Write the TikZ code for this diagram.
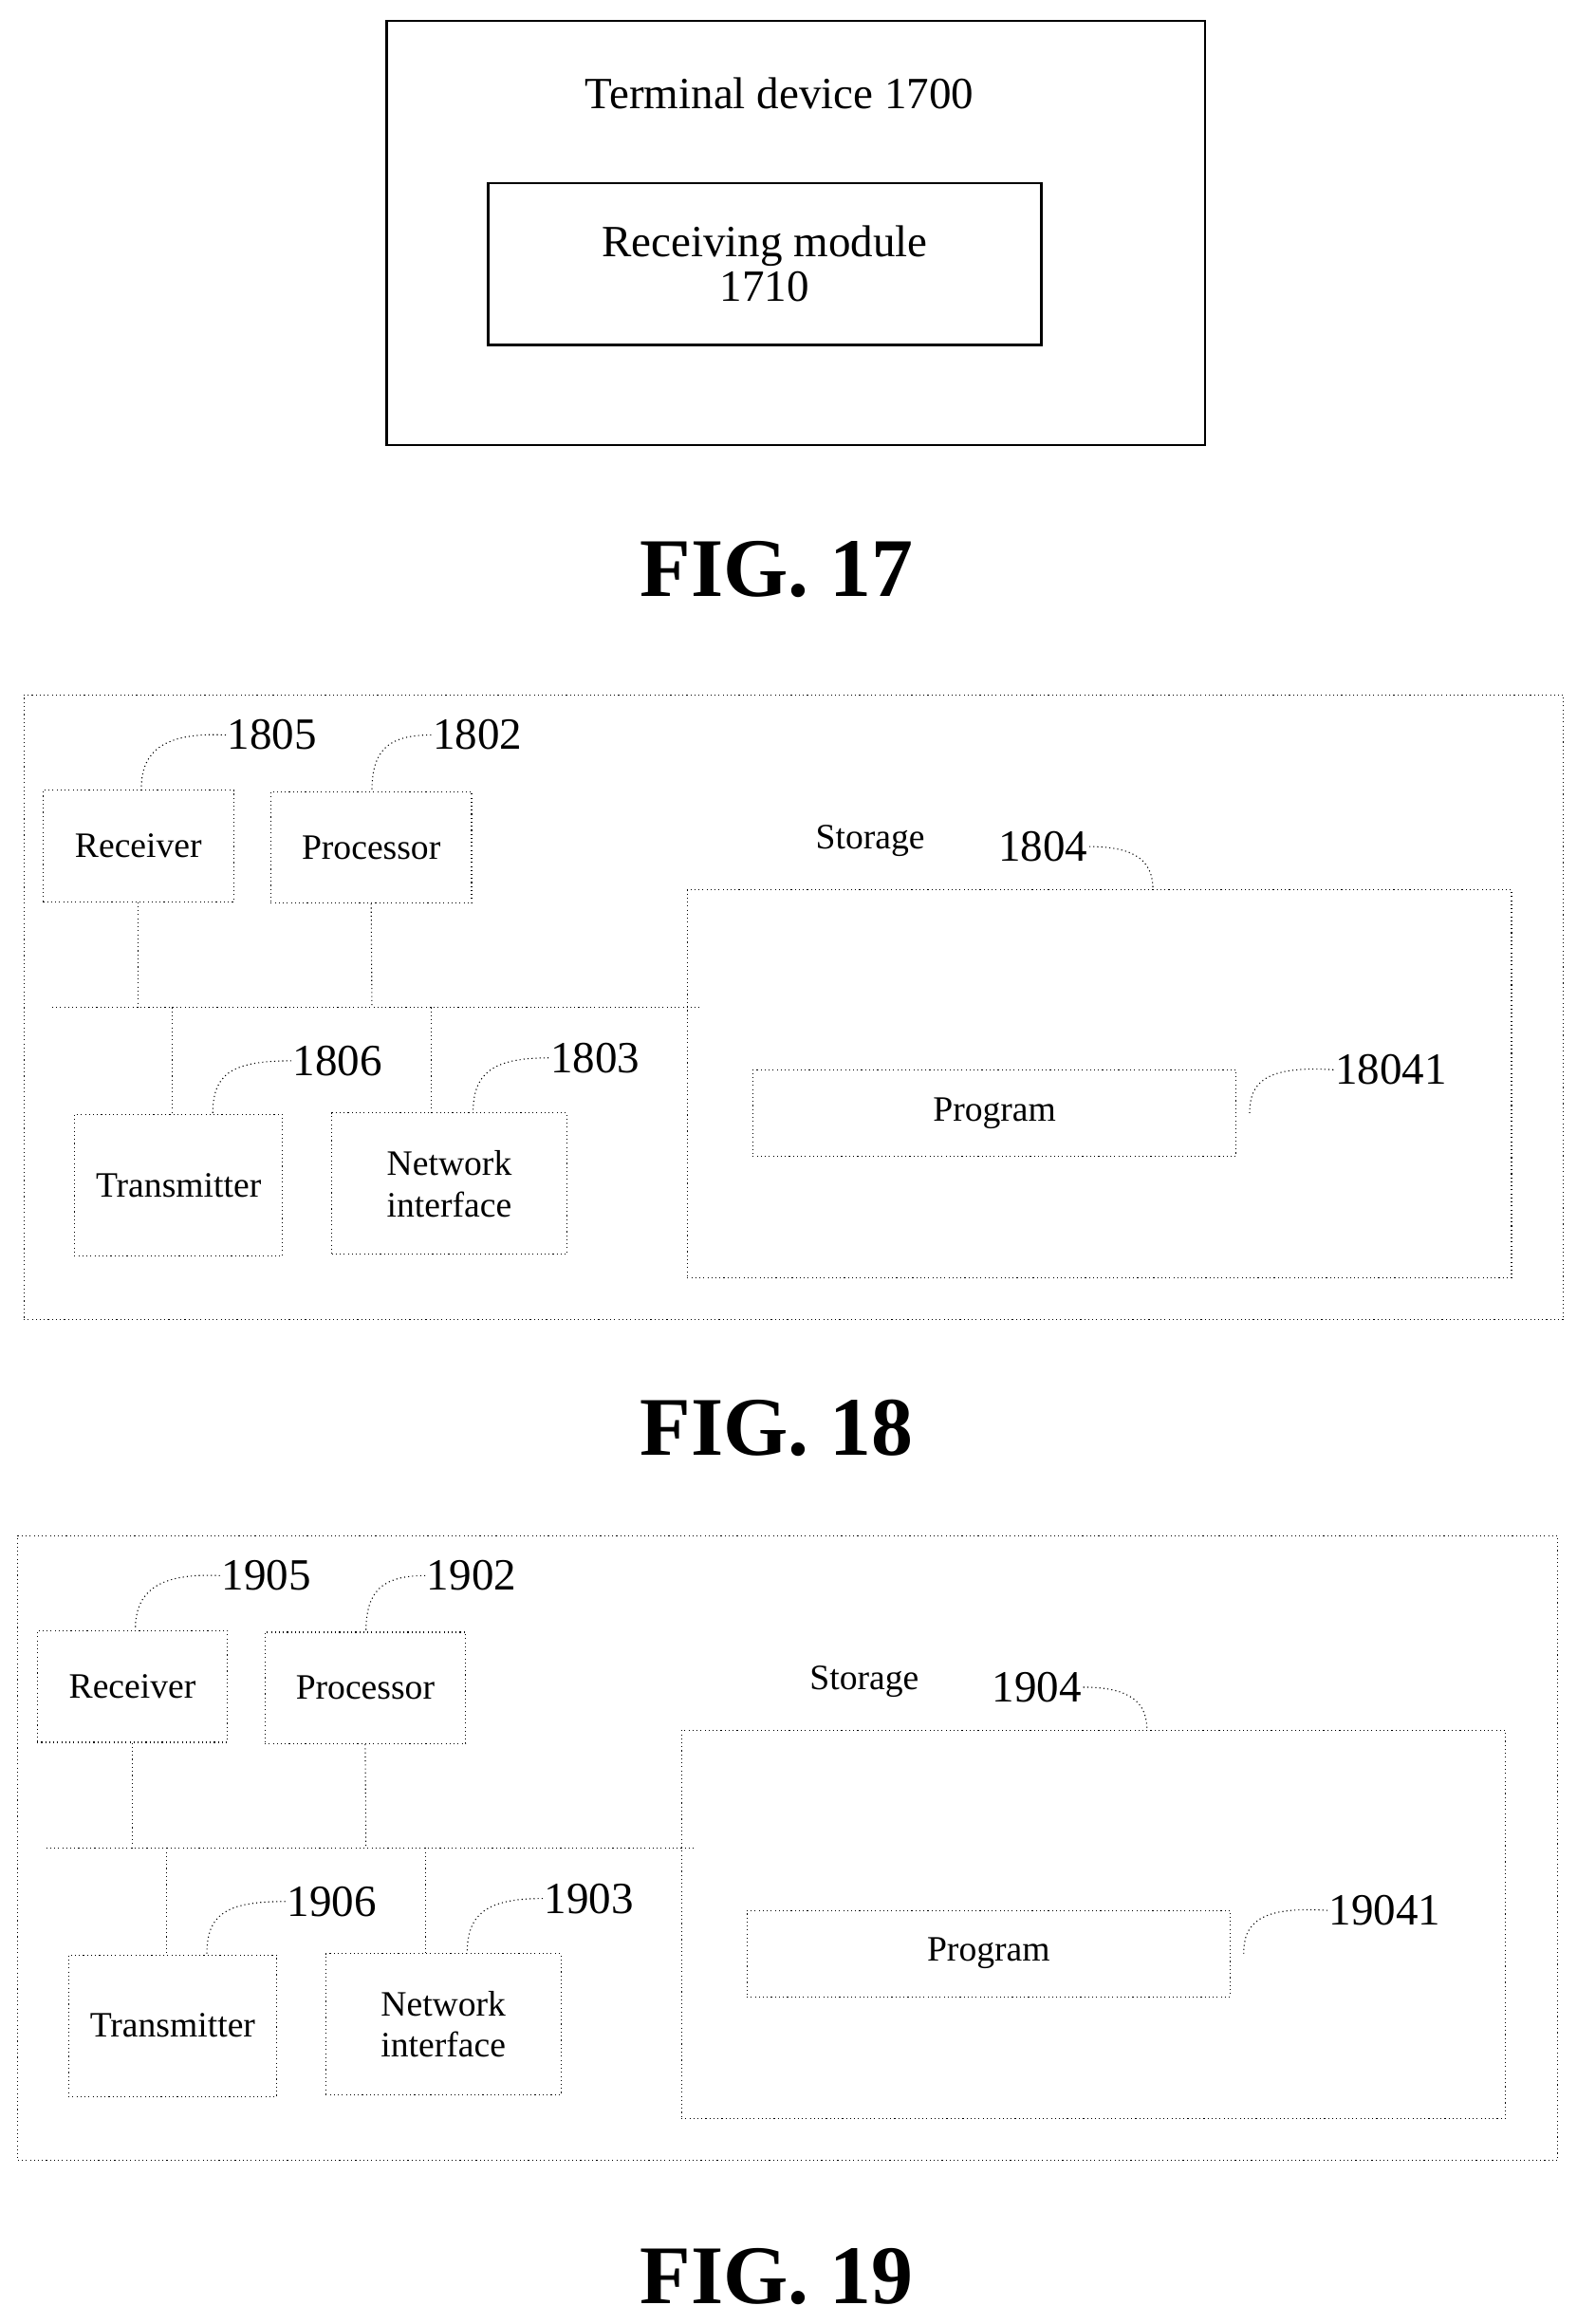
\documentclass[tikz,border=0pt]{standalone}
\usepackage{fontspec}
\setmainfont{Liberation Serif}
\begin{document}
\begin{tikzpicture}[x=1pt,y=-1pt,
  solidbox/.style={draw,line width=1.6pt,inner sep=0pt},
  dbox/.style={draw,dotted,line width=0.7pt,inner sep=0pt,align=center,font=\fontsize{24}{28}\selectfont},
  dl/.style={dotted,line width=0.7pt},
  num/.style={font=\fontsize{30}{34}\selectfont,inner sep=1pt},
  figl/.style={font=\bfseries\fontsize{56}{60}\selectfont}]
\useasboundingbox (0,0) rectangle (1060,1562);
% FIG 17
\node[solidbox,minimum width=550,minimum height=285] (term) at (535,156.5) {};
\node[font=\fontsize{30}{34}\selectfont] (termt) at (524,63) {Terminal device 1700};
\node[solidbox,minimum width=372,minimum height=109,align=center,font=\fontsize{30}{30}\selectfont] (recm) at (514,177.5) {Receiving module\\1710};
\node[figl] (f17) at (522,383) {FIG. 17};
\newcommand{\myblock}[3]{%
\begin{scope}[shift={(#2)}]
\node[dbox,minimum width=1035,minimum height=420] (#1outer) at (533.5,677) {};
\node[dbox,minimum width=128,minimum height=75] (#1rec) at (93,568.5) {Receiver};
\node[dbox,minimum width=135,minimum height=75] (#1proc) at (249.5,569.5) {Processor};
\node[dbox,minimum width=140,minimum height=95] (#1tx) at (120,796.5) {Transmitter};
\node[dbox,minimum width=158,minimum height=95] (#1net) at (302,795.5) {Network\\interface};
\node[dbox,minimum width=554,minimum height=261] (#1stor) at (739,728.5) {};
\node[dbox,minimum width=325,minimum height=58] (#1prog) at (668.5,748) {Program};
\node[font=\fontsize{24}{28}\selectfont] (#1storl) at (585,565) {Storage};
\coordinate (#1busl) at (35,677);
\coordinate (#1busr) at (470,677);
\coordinate (#1b1) at (93,677);
\coordinate (#1b2) at (250,677);
\coordinate (#1b3) at (116,677);
\coordinate (#1b4) at (290,677);
\coordinate (#1t3) at (116,749);
\coordinate (#1t4) at (290,748);
\draw[dl] (#1busl) -- (#1busr);
\draw[dl] (#1rec.south) -- (#1b1);
\draw[dl] (#1proc.south) -- (#1b2);
\draw[dl] (#1b3) -- (#1t3);
\draw[dl] (#1b4) -- (#1t4);
\node[num] (#1n5) at (183,494) {#305};
\node[num] (#1n2) at (321,494) {#302};
\node[num] (#1n6) at (227,713) {#306};
\node[num] (#1n3) at (400,711) {#303};
\node[num] (#1n4) at (701,569) {#304};
\node[num] (#1n41) at (935,719) {#3041};
\coordinate (#1a5) at (95,530);
\coordinate (#1a2) at (250,532);
\coordinate (#1a6) at (143,749);
\coordinate (#1a3) at (318,748);
\coordinate (#1a4) at (775,598);
\coordinate (#1a41) at (840,748);
\draw[dl] (#1n5.west) .. controls (110,492) and (95,505) .. (#1a5);
\draw[dl] (#1n2.west) .. controls (260,494) and (250,505) .. (#1a2);
\draw[dl] (#1n6.west) .. controls (155,713) and (143,722) .. (#1a6);
\draw[dl] (#1n3.west) .. controls (330,711) and (318,722) .. (#1a3);
\draw[dl] (#1n4.east) .. controls (765,569) and (775,580) .. (#1a4);
\draw[dl] (#1n41.west) .. controls (850,716) and (840,728) .. (#1a41);
\end{scope}}
\myblock{A}{0,0}{18}
\node[figl] (f18) at (522,960) {FIG. 18};
\myblock{B}{-4,565}{19}
\node[figl] (f19) at (522,1530) {FIG. 19};
\end{tikzpicture}
\end{document}
